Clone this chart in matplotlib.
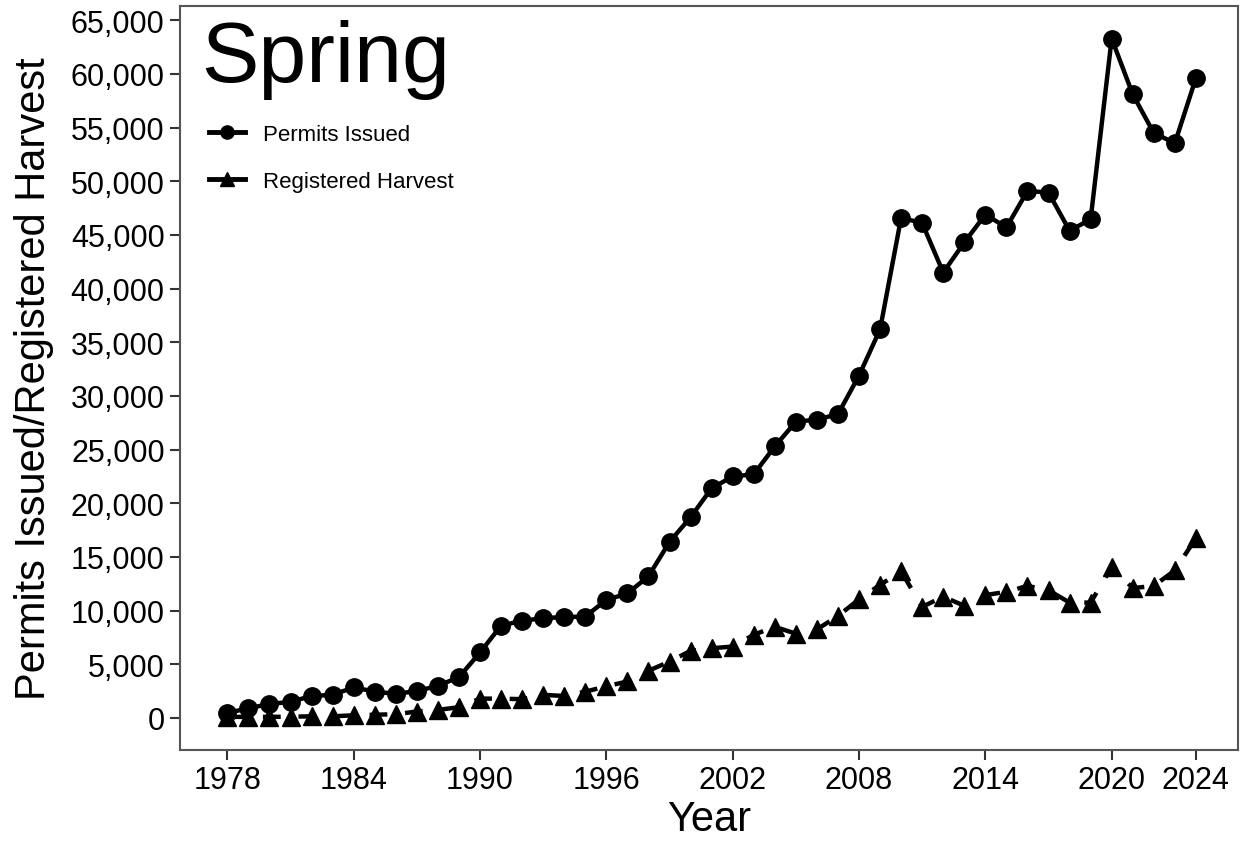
import matplotlib.pyplot as plt
from matplotlib.lines import Line2D
from matplotlib.ticker import FuncFormatter

plt.rcParams['font.family'] = ['Liberation Sans', 'DejaVu Sans']

years = list(range(1978, 2025))

# permits issued per year
permits = [470, 900, 1300, 1500, 2050, 2150, 2850, 2450, 2250, 2500,
           3000, 3800, 6100, 8600, 9050, 9300, 9400, 9450, 11000, 11600,
           13200, 16400, 18700, 21400, 22500, 22700, 25300, 27600, 27800, 28300,
           31900, 36200, 46600, 46100, 41500, 44300, 46900, 45700, 49100, 48950,
           45400, 46450, 63300, 58100, 54500, 53550, 59600]

# registered harvest per year
harvest = [100, 100, 100, 120, 150, 150, 250, 300, 350, 600,
           750, 1000, 1800, 1800, 1750, 2150, 2050, 2450, 2950, 3400,
           4400, 5250, 6250, 6500, 6650, 7750, 8500, 7850, 8250, 9500,
           11050, 12400, 13650, 10350, 11300, 10450, 11450, 11750, 12300, 11900,
           10750, 10750, 14050, 12100, 12300, 13750, 16750]

x_ticks = [1978, 1984, 1990, 1996, 2002, 2008, 2014, 2020, 2024]
y_ticks = list(range(0, 65001, 5000))

fig = plt.figure(figsize=(12.43, 8.45), dpi=100)
ax = fig.add_axes([180 / 1243, 1 - 751 / 845, 1058 / 1243, 744 / 845])

ax.plot(years, permits, color='black', lw=3.2, marker='o', ms=12.5, zorder=3)
ax.plot(years, harvest, color='black', lw=3.2, ls=(0, (4, 4)), marker='^',
        ms=13.5, zorder=3)

ax.set_xlim(1975.75, 2026.0)
ax.set_ylim(-2985, 66330)
ax.set_xticks(x_ticks)
ax.set_yticks(y_ticks)
ax.yaxis.set_major_formatter(FuncFormatter(lambda v, p: f'{int(v):,}'))
ax.tick_params(labelsize=22, length=7, width=1.5, color='#333333',
               labelcolor='black', pad=4)

for s in ax.spines.values():
    s.set_color('#555555')
    s.set_linewidth(1.5)

ax.set_xlabel('Year', fontsize=30, labelpad=3)
ax.set_ylabel('Permits Issued/Registered Harvest', fontsize=30, labelpad=12)

ax.text(0.020, 0.982, 'Spring', transform=ax.transAxes, fontsize=62,
        va='top', ha='left')

handles = [Line2D([], [], color='black', lw=3.5, marker='o', ms=9.5),
           Line2D([], [], color='black', lw=3.5, marker='^', ms=10.5)]
ax.legend(handles, ['Permits Issued', 'Registered Harvest'],
          loc='upper left', bbox_to_anchor=(0.011, 0.865), frameon=False,
          fontsize=16, handlelength=1.6, handletextpad=0.8,
          labelspacing=1.15, borderpad=0.3)

fig.savefig('out.png', dpi=100)
